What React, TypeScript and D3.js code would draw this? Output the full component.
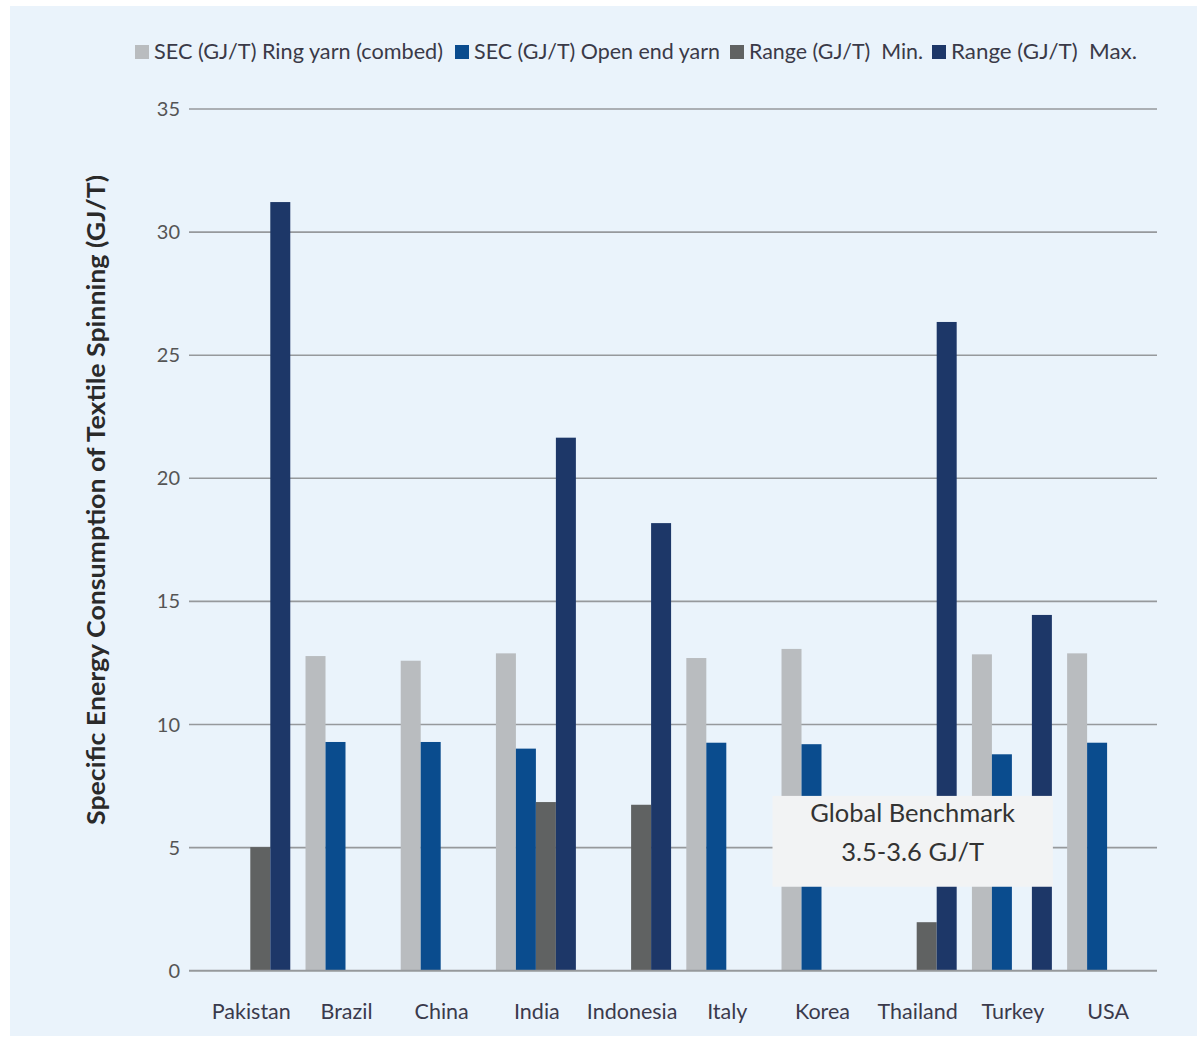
import * as d3 from 'd3';

const countries = ['Pakistan', 'Brazil', 'China', 'India', 'Indonesia', 'Italy', 'Korea', 'Thailand', 'Turkey', 'USA'];
const seriesKeys = ['ring', 'open', 'min', 'max'];
const seriesLabels = [
  'SEC (GJ/T) Ring yarn (combed)',
  'SEC (GJ/T) Open end yarn',
  'Range (GJ/T)  Min.',
  'Range (GJ/T)  Max.',
];
const seriesColors = ['#b9bcbf', '#0a4c8e', '#606262', '#1d3768'];

// null = no bar
const ringYarn = [null, 12.78, 12.59, 12.89, null, 12.7, 13.07, null, 12.85, 12.89];
const openEndYarn = [null, 9.29, 9.29, 9.02, null, 9.26, 9.2, null, 8.79, 9.26];
const rangeMin = [5.02, null, null, 6.85, 6.74, null, null, 1.97, null, null];
const rangeMax = [31.22, null, null, 21.65, 18.18, null, null, 26.35, 14.45, null];
const seriesValues = [ringYarn, openEndYarn, rangeMin, rangeMax];

const yTicks = [0, 5, 10, 15, 20, 25, 30, 35];
const benchmarkLines = ['Global Benchmark', '3.5-3.6 GJ/T'];
const benchmarkRange = [3.41, 7.1];

const W = 1197;
const H = 1038;
const FONT = 'Lato, "Open Sans", sans-serif';

// legend layout (swatch x, text width)
const legendX = [135, 455, 730, 932];
const legendTextW = [289, 246, 174, 186];

export default function App() {
  const x = d3.scaleBand<string>().domain(countries).range([202.7, 1154.7]).paddingInner(0.16).paddingOuter(0.08);
  const xInner = d3.scaleBand<string>().domain(seriesKeys).range([0, x.bandwidth()]);
  const y = d3.scaleLinear().domain([0, 35]).range([970.7, 109]);

  const boxX0 = (x('Korea') as number) - 9;
  const boxX1 = (x('Turkey') as number) + x.bandwidth() + 1;
  const boxY0 = y(benchmarkRange[1]);
  const boxY1 = y(benchmarkRange[0]);
  const boxCx = (boxX0 + boxX1) / 2;

  return (
    <svg width={W} height={H} style={{ position: 'absolute', left: 0, top: 0, fontFamily: FONT }}>
      <rect x={0} y={0} width={W} height={H} fill="#ffffff" />
      <rect x={10} y={6} width={W - 10} height={H - 8} fill="#eaf3fb" />

      {/* legend */}
      {seriesLabels.map((label, i) => (
        <g key={label}>
          <rect x={legendX[i]} y={45} width={14} height={14} fill={seriesColors[i]} />
          <text
            x={legendX[i] + 19}
            y={59}
            fontSize={21}
            fill="#3a3a48"
            textLength={legendTextW[i]}
            lengthAdjust="spacingAndGlyphs"
            style={{ whiteSpace: 'pre' }}
          >
            {label}
          </text>
        </g>
      ))}

      {/* grid + y ticks */}
      {yTicks.map((t) => (
        <g key={t}>
          <line x1={189} x2={1157} y1={y(t)} y2={y(t)} stroke="#96999c" strokeWidth={1.6} />
          <text x={180} y={y(t) + 7} textAnchor="end" fontSize={20} fill="#555">
            {t}
          </text>
        </g>
      ))}

      {/* bars */}
      {seriesKeys.map((key, si) => (
        <g key={key} fill={seriesColors[si]}>
          {countries.map((c, ci) => {
            const v = seriesValues[si][ci];
            if (v == null) return null;
            return (
              <rect
                key={c}
                x={(x(c) as number) + (xInner(key) as number)}
                y={y(v)}
                width={xInner.bandwidth()}
                height={y(0) - y(v)}
              />
            );
          })}
        </g>
      ))}

      {/* zero line on top */}
      <line x1={189} x2={1157} y1={y(0)} y2={y(0)} stroke="#96999c" strokeWidth={1.8} />

      {/* x labels */}
      {countries.map((c) => (
        <text
          key={c}
          x={(x(c) as number) + x.bandwidth() / 2 + 1}
          y={1019}
          textAnchor="middle"
          fontSize={21.5}
          fill="#3a3a4c"
        >
          {c}
        </text>
      ))}

      {/* y title */}
      <text
        transform="translate(105,500) rotate(-90)"
        textAnchor="middle"
        fontSize={24}
        fontWeight="bold"
        fill="#2a2a2a"
        textLength={650}
        lengthAdjust="spacingAndGlyphs"
      >
        Specific Energy Consumption of Textile Spinning (GJ/T)
      </text>

      {/* benchmark box */}
      <rect x={boxX0} y={boxY0} width={boxX1 - boxX0} height={boxY1 - boxY0} fill="#f2f3f4" />
      <text x={boxCx} y={boxY0 + 26} textAnchor="middle" fontSize={25.5} fill="#333">
        {benchmarkLines[0]}
      </text>
      <text x={boxCx} y={boxY0 + 65} textAnchor="middle" fontSize={25.5} fill="#333">
        {benchmarkLines[1]}
      </text>
    </svg>
  );
}
